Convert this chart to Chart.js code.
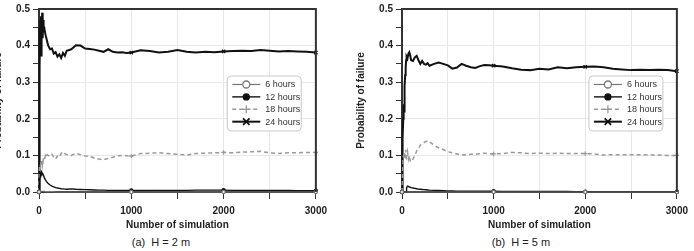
<!DOCTYPE html>
<html>
<head>
<meta charset="utf-8">
<script src="https://cdn.jsdelivr.net/npm/chart.js@4.4.1/dist/chart.umd.min.js"></script>
<style>
  body { margin: 0; background: #fff; width: 694px; height: 251px; overflow: hidden; position: relative;
         font-family: "Liberation Sans", Arial, sans-serif; }
  .panel { position: absolute; top: 0; }
  .caption { position: absolute; top: 236px; font-size: 11px; color: #222; transform: translateX(-50%); white-space: nowrap; }
</style>
</head>
<body>
<canvas id="chartA" class="panel" width="352" height="232" style="left:-19px;width:352px;height:232px"></canvas>
<canvas id="chartB" class="panel" width="350" height="232" style="left:344px;width:350px;height:232px"></canvas>
<div class="caption" style="left:161px">(a)&nbsp;&nbsp;H = 2 m</div>
<div class="caption" style="left:521px">(b)&nbsp;&nbsp;H = 5 m</div>
<script>
// number of simulations (shared x values)
const simRuns = [0, 3, 6, 10, 14, 18, 22, 26, 30, 35, 40, 45, 50,
  60, 70, 80, 90, 100,
  120, 140, 160, 180, 200, 220, 240, 260, 280, 300,
  350, 400, 450, 500, 550, 600, 650, 700, 750, 800, 850, 900, 950, 1000,
  1100, 1200, 1300, 1400, 1500, 1600, 1700, 1800, 1900, 2000,
  2100, 2200, 2300, 2400, 2500, 2600, 2700, 2800, 2900, 3000];

const seriesLabels = ["6 hours", "12 hours", "18 hours", "24 hours"];

// (a) H = 2 m
const h2_6h = [0, 0, 0, 0, 0.001, 0.001, 0.002, 0.002, 0.002, 0.002, 0.002, 0.002, 0.002,
  0.002, 0.001, 0.001, 0.001, 0.001,
  0.001, 0.001, 0.001, 0, 0, 0, 0, 0, 0, 0,
  0, 0, 0, 0, 0, 0, 0, 0, 0, 0, 0, 0, 0, 0,
  0, 0, 0, 0, 0, 0, 0, 0, 0, 0,
  0, 0, 0, 0, 0, 0, 0, 0, 0, 0];
const h2_12h = [0, 0.02, 0.035, 0.03, 0.045, 0.04, 0.05, 0.048, 0.055, 0.052, 0.05, 0.047, 0.044,
  0.038, 0.033, 0.029, 0.026, 0.023,
  0.019, 0.016, 0.014, 0.012, 0.011, 0.010, 0.009, 0.0085, 0.008, 0.0075,
  0.0085, 0.0075, 0.007, 0.0065, 0.006, 0.0055, 0.005, 0.005, 0.0045, 0.0045, 0.0045, 0.004, 0.004, 0.004,
  0.004, 0.0045, 0.0045, 0.004, 0.004, 0.0045, 0.005, 0.005, 0.005, 0.005,
  0.0045, 0.0045, 0.004, 0.004, 0.004, 0.004, 0.004, 0.0035, 0.0035, 0.0035];
const h2_18h = [0, 0.05, 0.07, 0.06, 0.075, 0.065, 0.08, 0.07, 0.085, 0.075, 0.09, 0.085, 0.095,
  0.09, 0.10, 0.095, 0.102, 0.10,
  0.097, 0.103, 0.095, 0.09, 0.098, 0.095, 0.105, 0.11, 0.105, 0.102,
  0.10, 0.106, 0.102, 0.098, 0.097, 0.093, 0.09, 0.088, 0.092, 0.095, 0.099, 0.100, 0.099, 0.098,
  0.105, 0.106, 0.107, 0.105, 0.103, 0.101, 0.105, 0.106, 0.107, 0.108,
  0.107, 0.109, 0.110, 0.111, 0.107, 0.105, 0.107, 0.107, 0.108, 0.108];
const h2_24h = [0, 0.33, 0.45, 0.34, 0.47, 0.41, 0.48, 0.37, 0.45, 0.49, 0.42, 0.47, 0.44,
  0.445, 0.43, 0.42, 0.41, 0.40,
  0.39, 0.392, 0.378, 0.382, 0.37, 0.376, 0.366, 0.38, 0.372, 0.386,
  0.39, 0.401, 0.40, 0.392, 0.391, 0.389, 0.386, 0.383, 0.39, 0.383, 0.381, 0.382, 0.38, 0.381,
  0.387, 0.385, 0.381, 0.383, 0.388, 0.383, 0.381, 0.383, 0.382, 0.384,
  0.385, 0.386, 0.385, 0.388, 0.386, 0.384, 0.385, 0.384, 0.383, 0.381];

// (b) H = 5 m
const h5_6h = [0, 0, 0, 0, 0, 0, 0, 0, 0, 0, 0, 0, 0,
  0, 0, 0, 0, 0,
  0, 0, 0, 0, 0, 0, 0, 0, 0, 0,
  0, 0, 0, 0, 0, 0, 0, 0, 0, 0, 0, 0, 0, 0,
  0, 0, 0, 0, 0, 0, 0, 0, 0, 0,
  0, 0, 0, 0, 0, 0, 0, 0, 0, 0];
const h5_12h = [0, 0, 0, 0, 0, 0, 0, 0, 0, 0, 0, 0, 0.012,
  0.016, 0.015, 0.014, 0.013, 0.012,
  0.011, 0.010, 0.009, 0.008, 0.0075, 0.007, 0.0065, 0.006, 0.0055, 0.005,
  0.0045, 0.004, 0.0035, 0.003, 0.003, 0.0025, 0.0025, 0.002, 0.002, 0.002, 0.002, 0.002, 0.002, 0.002,
  0.0018, 0.0016, 0.0015, 0.0015, 0.0014, 0.0013, 0.0012, 0.0012, 0.0011, 0.0011,
  0.001, 0.001, 0.001, 0.001, 0.001, 0.001, 0.001, 0.001, 0.001, 0.001];
const h5_18h = [0, 0.02, 0.05, 0.08, 0.10, 0.09, 0.11, 0.095, 0.105, 0.09, 0.115, 0.10, 0.095,
  0.11, 0.09, 0.10, 0.085, 0.082,
  0.09, 0.10, 0.112, 0.12, 0.128, 0.132, 0.135, 0.138, 0.14, 0.137,
  0.128, 0.121, 0.116, 0.11, 0.107, 0.104, 0.101, 0.102, 0.103, 0.103, 0.105, 0.106, 0.105, 0.104,
  0.105, 0.108, 0.107, 0.105, 0.106, 0.105, 0.106, 0.105, 0.105, 0.105,
  0.104, 0.101, 0.102, 0.102, 0.102, 0.102, 0.101, 0.101, 0.100, 0.100];
const h5_24h = [0, 0.05, 0.10, 0.15, 0.20, 0.24, 0.22, 0.27, 0.29, 0.32, 0.34, 0.36, 0.37,
  0.365, 0.378, 0.382, 0.372, 0.36,
  0.358, 0.368, 0.372, 0.36, 0.35, 0.358, 0.35, 0.348, 0.352, 0.345,
  0.35, 0.354, 0.35, 0.346, 0.337, 0.34, 0.35, 0.345, 0.341, 0.339, 0.344, 0.347, 0.346, 0.345,
  0.343, 0.338, 0.334, 0.333, 0.337, 0.335, 0.341, 0.338, 0.341, 0.342,
  0.343, 0.341, 0.337, 0.335, 0.333, 0.334, 0.333, 0.334, 0.333, 0.330];

const xTicks = { min: 0, max: 3000, step: 500 };
const yTicks = { min: 0, max: 0.5, step: 0.05 };

// r = legend marker size, pr = marker size on the curves (they are tiny there)
const lineStyles = [
  { color: "#777", width: 1.2, dash: [], point: "circle", fill: "#fff", r: 3.5, pr: 1.6 },
  { color: "#111", width: 1.4, dash: [], point: "circle", fill: "#111", r: 3, pr: 1.6 },
  { color: "#999", width: 1.5, dash: [4, 3], point: "cross", fill: "#999", r: 4, pr: 2.2 },
  { color: "#111", width: 2, dash: [], point: "crossRot", fill: "#111", r: 4, pr: 2.4 }
];

function drawMarker(ctx, s, x, y) {
  ctx.save();
  ctx.setLineDash([]);
  ctx.strokeStyle = s.color;
  ctx.fillStyle = s.fill;
  ctx.lineWidth = 1.3;
  ctx.beginPath();
  if (s.point === "circle") {
    ctx.arc(x, y, s.r, 0, Math.PI * 2);
    ctx.fill();
    ctx.stroke();
  } else if (s.point === "cross") {
    ctx.moveTo(x - s.r, y); ctx.lineTo(x + s.r, y);
    ctx.moveTo(x, y - s.r); ctx.lineTo(x, y + s.r);
    ctx.stroke();
  } else {
    const d = s.r * 0.8;
    ctx.lineWidth = 1.8;
    ctx.moveTo(x - d, y - d); ctx.lineTo(x + d, y + d);
    ctx.moveTo(x + d, y - d); ctx.lineTo(x - d, y + d);
    ctx.stroke();
  }
  ctx.restore();
}

const framePlugin = {
  id: "frame",
  afterDatasetsDraw(chart) {
    const { ctx, chartArea: a } = chart;
    ctx.save();
    ctx.strokeStyle = "#333";
    ctx.lineWidth = 2;
    ctx.beginPath();
    ctx.moveTo(a.left, a.top);
    ctx.lineTo(a.right, a.top);
    ctx.lineTo(a.right, a.bottom);
    ctx.stroke();
    ctx.restore();
  }
};

const boxLegend = {
  id: "boxLegend",
  afterDraw(chart) {
    const { ctx, chartArea: a } = chart;
    const bx = a.left + 0.68 * (a.right - a.left);
    const by = a.top + 0.366 * (a.bottom - a.top);
    const bw = 74, bh = 55;
    ctx.save();
    ctx.beginPath();
    ctx.roundRect(bx, by, bw, bh, 4);
    ctx.fillStyle = "#fff";
    ctx.fill();
    ctx.strokeStyle = "#c8c8c8";
    ctx.lineWidth = 1;
    ctx.stroke();
    ctx.font = "9px 'Liberation Sans', Arial, sans-serif";
    ctx.textBaseline = "middle";
    chart.data.datasets.forEach((ds, i) => {
      const s = lineStyles[i];
      const y = by + 8.5 + i * 12.4;
      ctx.save();
      ctx.strokeStyle = s.color;
      ctx.lineWidth = s.width;
      ctx.setLineDash(s.dash);
      ctx.beginPath();
      ctx.moveTo(bx + 5, y);
      ctx.lineTo(bx + 33, y);
      ctx.stroke();
      ctx.restore();
      drawMarker(ctx, s, bx + 19, y);
      ctx.fillStyle = "#333";
      ctx.fillText(ds.label, bx + 38, y + 0.5);
    });
    ctx.restore();
  }
};

function makeChart(id, series) {
  const datasets = series.map((vals, i) => {
    const s = lineStyles[i];
    return {
      label: seriesLabels[i],
      data: simRuns.map((x, k) => ({ x: x, y: vals[k] })),
      borderColor: s.color,
      borderWidth: s.width,
      borderDash: s.dash,
      backgroundColor: s.fill,
      pointStyle: s.point,
      pointBorderColor: s.color,
      pointBackgroundColor: s.fill,
      pointBorderWidth: 1.2,
      pointRadius: ctx => (ctx.raw && ctx.raw.x % 1000 === 0) ? s.pr : 0,
      tension: 0,
      clip: 6
    };
  });

  new Chart(document.getElementById(id), {
    type: "line",
    data: { datasets: datasets },
    options: {
      responsive: false,
      animation: false,
      layout: { padding: { top: 6, right: 14, left: 0, bottom: 0 } },
      plugins: { legend: { display: false }, tooltip: { enabled: false } },
      scales: {
        x: {
          type: "linear",
          min: xTicks.min,
          max: xTicks.max,
          afterFit: scale => { scale.height = 40; },
          ticks: {
            stepSize: xTicks.step,
            autoSkip: false,
            maxRotation: 0,
            padding: 6,
            color: "#222",
            font: { family: "'Liberation Sans', Arial", size: 10, weight: "bold" },
            callback: v => (v % 1000 === 0 ? v : "")
          },
          grid: { color: "#e8e8e8", tickColor: "#333", tickLength: 7, lineWidth: 1 },
          border: { color: "#333", width: 2 },
          title: {
            display: true,
            text: "Number of simulation",
            color: "#222",
            font: { family: "'Liberation Sans', Arial", size: 10, weight: "bold" },
            padding: { top: 0, bottom: 1 }
          }
        },
        y: {
          min: yTicks.min,
          max: yTicks.max,
          afterFit: scale => { scale.width = 58; },
          ticks: {
            stepSize: yTicks.step,
            autoSkip: false,
            padding: 3,
            color: "#222",
            font: { family: "'Liberation Sans', Arial", size: 10, weight: "bold" },
            callback: v => (Math.abs(v * 10 - Math.round(v * 10)) < 1e-6 ? v.toFixed(1) : "")
          },
          grid: {
            color: ctx => (Math.abs(ctx.tick.value * 10 - Math.round(ctx.tick.value * 10)) < 1e-6 ? "#e8e8e8" : "rgba(0,0,0,0)"),
            tickColor: "#333",
            tickLength: 6,
            lineWidth: 1
          },
          border: { color: "#333", width: 2 },
          title: {
            display: true,
            text: "Probability of failure",
            color: "#222",
            font: { family: "'Liberation Sans', Arial", size: 10, weight: "bold" },
            padding: { top: 11, bottom: 0 }
          }
        }
      }
    },
    plugins: [framePlugin, boxLegend]
  });
}

makeChart("chartA", [h2_6h, h2_12h, h2_18h, h2_24h]);
makeChart("chartB", [h5_6h, h5_12h, h5_18h, h5_24h]);
</script>
</body>
</html>
